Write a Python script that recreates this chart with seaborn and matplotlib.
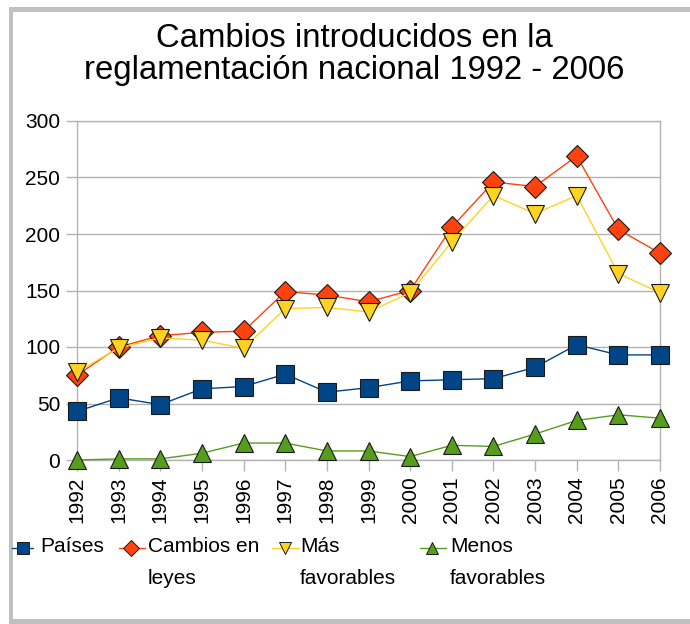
import matplotlib
matplotlib.use("Agg")
import matplotlib.pyplot as plt
import seaborn as sns
import pandas as pd
from matplotlib.lines import Line2D
from matplotlib.patches import Rectangle

years = [1992, 1993, 1994, 1995, 1996, 1997, 1998, 1999, 2000, 2001, 2002, 2003, 2004, 2005, 2006]
paises = [43, 55, 49, 63, 65, 76, 60, 64, 70, 71, 72, 82, 102, 93, 93]
cambios = [75, 100, 110, 113, 114, 149, 146, 140, 150, 206, 246, 242, 269, 204, 183]
mas_fav = [78, 99, 108, 106, 99, 134, 135, 131, 148, 193, 234, 218, 234, 165, 148]
menos_fav = [0, 1, 1, 6, 15, 15, 8, 8, 3, 13, 12, 23, 35, 40, 37]

series_names = ["Países", "Cambios en\nleyes", "Más\nfavorables", "Menos\nfavorables"]
series_vals = [paises, cambios, mas_fav, menos_fav]
colors = ["#004586", "#ff420e", "#ffd320", "#579d1c"]
markers = ["s", "D", "v", "^"]
msizes = [13, 11.5, 13, 13]

sns.set_theme(style="white")
plt.rcParams["font.family"] = ["Liberation Sans", "DejaVu Sans"]
plt.rcParams["text.color"] = "black"
plt.rcParams["xtick.labelcolor"] = "black"
plt.rcParams["ytick.labelcolor"] = "black"

fig = plt.figure(figsize=(6.9, 6.24), dpi=100)
ax = fig.add_axes([77 / 690, 1 - 460 / 624, (660 - 77) / 690, (460 - 121) / 624])

for name, vals, c, m, ms in zip(series_names, series_vals, colors, markers, msizes):
    df = pd.DataFrame({"year": years, "value": vals})
    sns.lineplot(data=df, x="year", y="value", ax=ax, color=c, marker=m,
                 markersize=ms, markeredgecolor="#1a1a1a", markeredgewidth=0.8,
                 linewidth=1.0, clip_on=False, zorder=3)

ax.set_xlim(1992, 2006)
ax.set_ylim(0, 300)
ax.set_yticks(range(0, 301, 50))
ax.set_xticks(years)
ax.set_xticklabels([str(y) for y in years], rotation=90, fontsize=15)
ax.tick_params(axis="y", labelsize=15, length=8, color="#b3b3b3", width=1, left=True, pad=4,
               labelcolor="black")
ax.tick_params(axis="x", length=8, color="#b3b3b3", width=1, bottom=True, pad=4,
               labelcolor="black")
ax.set_xlabel("")
ax.set_ylabel("")
ax.yaxis.grid(True, color="#b3b3b3", linewidth=1)
ax.xaxis.grid(False)
for s in ax.spines.values():
    s.set_color("#b3b3b3")
    s.set_linewidth(1)

fig.text(0.513, 1 - 23 / 624, "Cambios introducidos en la\nreglamentación nacional 1992 - 2006",
         ha="center", va="top", fontsize=23.7, linespacing=1.05, color="black")

# legend (manual layout)
leg_y = 1 - 548 / 624
handle_x = [(12, 33, 23), (119, 145, 131), (272, 299, 285), (420, 446, 432)]
text_x = [40, 148, 300, 450]
for name, c, m, (x0, x1, xm), tx in zip(series_names, colors, markers, handle_x, text_x):
    fig.add_artist(Line2D([x0 / 690, x1 / 690], [leg_y, leg_y], color=c, lw=1.0,
                          transform=fig.transFigure))
    fig.add_artist(Line2D([xm / 690], [leg_y], color=c, marker=m, markersize=9 if m != "D" else 8,
                          markeredgecolor="#1a1a1a", markeredgewidth=0.7,
                          transform=fig.transFigure))
    fig.text(tx / 690, 1 - 537 / 624, name, ha="left", va="top", fontsize=15, linespacing=1.85,
             color="black")

# outer frame (left, top, bottom)
gray = "#c0c0c0"
fig.add_artist(Rectangle((9 / 690, 0), 4 / 690, 1 - 7 / 624, transform=fig.transFigure,
                         color=gray, lw=0))
fig.add_artist(Rectangle((9 / 690, 1 - 12 / 624), 1, 5 / 624, transform=fig.transFigure,
                         color=gray, lw=0))
fig.add_artist(Rectangle((9 / 690, 0), 1, 5 / 624, transform=fig.transFigure,
                         color=gray, lw=0))

fig.savefig("out.png", dpi=100, facecolor="white")
